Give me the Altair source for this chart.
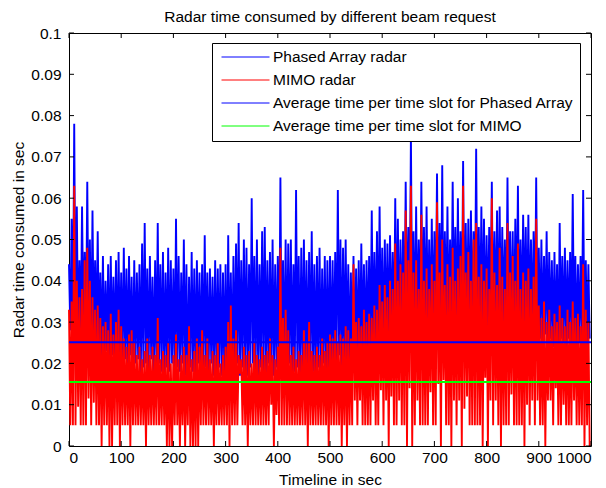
import altair as alt
import pandas as pd

TITLE = "Radar time consumed by different beam request"
X_TITLE = "Timeline in sec"
Y_TITLE = "Radar time consumed in sec"
SERIES = ["Phased Array radar", "MIMO radar",
          "Average time per time slot for Phased Array",
          "Average time per time slot for MIMO"]
COLORS = ["#0000ff", "#ff0000", "#0000ff", "#00ff00"]

BIN_SEC = 5  # each entry below covers 5 s of the timeline (high / low of that slot)

# values in milliseconds (20 entries = 100 s per row)
pa_high_ms = [
    44, 55, 78, 58, 45, 58, 47, 64, 50, 57, 45, 52, 42, 46, 40, 44, 46, 41, 45, 47,
    42, 48, 43, 46, 41, 45, 42, 44, 49, 54, 43, 46, 41, 45, 54, 44, 47, 42, 48, 45,
    43, 55, 46, 42, 50, 44, 41, 47, 43, 45, 42, 44, 51, 42, 43, 41, 45, 43, 44, 42,
    44, 51, 42, 46, 49, 54, 45, 50, 48, 44, 60, 46, 50, 44, 52, 53, 45, 47, 50, 44,
    46, 65, 45, 50, 49, 50, 44, 62, 46, 48, 50, 45, 47, 52, 44, 46, 48, 43, 46, 45,
    46, 45, 47, 62, 50, 48, 50, 44, 42, 46, 43, 45, 49, 44, 45, 46, 57, 47, 52, 58,
    48, 50, 49, 51, 47, 60, 55, 50, 52, 64, 53, 75, 52, 58, 50, 64, 53, 58, 50, 55,
    52, 66, 54, 68, 52, 58, 50, 64, 53, 60, 52, 69, 54, 55, 57, 52, 72, 53, 58, 55,
    51, 53, 64, 52, 57, 58, 53, 50, 65, 52, 52, 55, 63, 50, 56, 53, 56, 50, 52, 65,
    48, 50, 46, 52, 47, 45, 47, 44, 54, 46, 48, 45, 47, 61, 46, 44, 46, 62, 45, 44,
]
pa_low_ms = [
    28, 25, 27, 24, 26, 29, 25, 27, 23, 26, 25, 24, 22, 21, 23, 20, 22, 21, 19, 22,
    20, 21, 19, 22, 18, 20, 21, 17, 19, 20, 18, 21, 17, 19, 20, 18, 17, 19, 18, 20,
    17, 19, 18, 20, 17, 12, 19, 18, 17, 20, 18, 17, 19, 18, 20, 17, 18, 19, 17, 18,
    12, 18, 17, 18, 20, 17, 19, 18, 17, 19, 20, 18, 17, 19, 18, 17, 20, 18, 17, 19,
    18, 17, 19, 18, 20, 17, 18, 19, 17, 18, 20, 17, 19, 18, 17, 19, 18, 20, 17, 18,
    19, 21, 20, 22, 18, 20, 21, 18, 22, 20, 21, 22, 23, 21, 24, 22, 23, 25, 22, 24,
    23, 25, 24, 26, 23, 25, 24, 26, 25, 27, 26, 28, 25, 27, 26, 29, 27, 26, 28, 27,
    29, 27, 28, 26, 30, 27, 28, 29, 27, 30, 28, 26, 29, 27, 28, 30, 27, 29, 28, 27,
    28, 30, 27, 29, 26, 28, 30, 27, 29, 28, 26, 29, 27, 28, 30, 27, 28, 26, 29, 27,
    26, 25, 27, 25, 26, 24, 25, 19, 26, 25, 24, 26, 25, 27, 24, 25, 26, 25, 24, 26,
]
mimo_high_ms = [
    33, 35, 63, 40, 36, 38, 45, 48, 40, 36, 33, 34, 31, 29, 30, 28, 32, 27, 30, 33,
    29, 26, 24, 27, 28, 25, 22, 24, 21, 23, 26, 22, 24, 22, 31, 21, 23, 22, 25, 20,
    22, 27, 21, 22, 24, 22, 29, 21, 23, 26, 24, 28, 22, 26, 21, 23, 22, 25, 20, 22,
    24, 30, 34, 26, 28, 22, 21, 24, 22, 23, 20, 25, 22, 21, 24, 22, 23, 26, 22, 21,
    24, 48, 31, 33, 28, 22, 24, 21, 23, 22, 28, 25, 30, 23, 22, 24, 22, 26, 23, 25,
    27, 26, 28, 25, 27, 26, 29, 28, 26, 44, 30, 31, 29, 33, 30, 32, 31, 34, 33, 39,
    35, 39, 36, 40, 38, 49, 40, 44, 42, 57, 45, 63, 42, 45, 38, 56, 40, 43, 38, 44,
    40, 59, 42, 50, 39, 44, 41, 48, 40, 43, 46, 63, 42, 47, 40, 50, 54, 41, 44, 40,
    43, 38, 60, 42, 39, 48, 41, 38, 54, 42, 46, 40, 49, 38, 42, 40, 43, 38, 41, 55,
    34, 31, 35, 30, 33, 29, 32, 30, 34, 31, 29, 33, 30, 35, 31, 32, 29, 44, 33, 30,
]
mimo_low_ms = [
    5, 5, 5, 9.5, 5, 5, 5, 11.5, 5, 10.5, 5, 5, 0, 5, 5, 0, 0, 5, 5, 0,
    5, 5, 5, 0, 5, 5, 5, 5, 5, 0, 5, 5, 5, 5, 5, 5, 5, 0, 0, 0,
    5, 5, 0, 5, 0, 5, 0, 0, 0, 0, 5, 5, 5, 5, 5, 0, 5, 5, 5, 5,
    5, 0, 5, 5, 5, 17.5, 5, 5, 0, 5, 5, 5, 5, 5, 5, 5, 5, 10, 0, 7.5,
    5, 5, 5, 5, 5, 5, 5, 5, 5, 5, 5, 0, 5, 5, 5, 5, 5, 5, 5, 0,
    5, 5, 5, 5, 0, 5, 0, 5, 5, 11, 5, 11, 5, 5, 5, 5, 11, 5, 5, 13.5,
    5, 11, 0, 12, 5, 5, 11, 5, 5, 0, 14, 0, 5, 11, 5, 5, 5, 5, 13, 5,
    5, 15, 0, 16, 5, 5, 0, 11, 5, 11, 0, 9, 12, 5, 5, 5, 5, 5, 0, 16.5,
    0, 11, 5, 11, 5, 0, 5, 5, 5, 12.5, 5, 5, 5, 5, 0, 10, 5, 11, 5, 11,
    5, 5, 0, 11, 11, 5, 14, 5, 5, 10, 5, 5, 5, 11, 5, 5, 5, 0, 5, 0,
]
avg_pa = 0.0251
avg_mimo = 0.0155

x_ticks = [0, 100, 200, 300, 400, 500, 600, 700, 800, 900, 1000]
y_ticks = [0, 0.01, 0.02, 0.03, 0.04, 0.05, 0.06, 0.07, 0.08, 0.09, 0.1]

for arr in (pa_high_ms, pa_low_ms, mimo_high_ms, mimo_low_ms):
    assert len(arr) == 200, len(arr)


def slots(highs, lows, name):
    rows = []
    for i, (h, l) in enumerate(zip(highs, lows)):
        rows.append({"t": i * BIN_SEC, "v": h / 1000.0, "s": name})
        rows.append({"t": i * BIN_SEC + BIN_SEC / 2, "v": l / 1000.0, "s": name})
    return pd.DataFrame(rows)


pa_df = slots(pa_high_ms, pa_low_ms, SERIES[0])
mimo_df = slots(mimo_high_ms, mimo_low_ms, SERIES[1])
avg_df = pd.DataFrame({
    "t": [x_ticks[0], x_ticks[-1], x_ticks[0], x_ticks[-1]],
    "v": [avg_pa, avg_pa, avg_mimo, avg_mimo],
    "s": [SERIES[2], SERIES[2], SERIES[3], SERIES[3]],
})
xt_df = pd.DataFrame({"t": x_ticks})
yt_df = pd.DataFrame({"v": y_ticks})

W, H = 522, 413
FONT = "Liberation Sans"
FS = 15.5

xscale = alt.Scale(domain=[0, 1000], nice=False, zero=False)
yscale = alt.Scale(domain=[0, 0.1], nice=False)
xaxis = alt.Axis(values=x_ticks, format="d", title=X_TITLE, labelPadding=4,
                 titleY=33, titleBaseline="middle")
yaxis = alt.Axis(values=y_ticks, format=".2~f", title=Y_TITLE, labelPadding=8,
                 titleX=-51, titleBaseline="middle")
X = alt.X("t:Q", scale=xscale, axis=xaxis)
Y = alt.Y("v:Q", scale=yscale, axis=yaxis)
legend = alt.Legend(
    title=None, orient="none", legendX=143, legendY=10,
    symbolType="stroke", symbolSize=2304, symbolStrokeWidth=1,
    labelFont=FONT, labelFontSize=FS, labelColor="black", labelLimit=500,
    labelOffset=3, symbolOffset=3, padding=6, rowPadding=6, clipHeight=16,
    fillColor="white", strokeColor="black", cornerRadius=0,
)
C = alt.Color("s:N", scale=alt.Scale(domain=SERIES, range=COLORS), legend=legend)

LW = 1.9
pa = alt.Chart(pa_df).mark_line(strokeWidth=LW, strokeJoin="bevel").encode(x=X, y=Y, color=C)
mimo = alt.Chart(mimo_df).mark_line(strokeWidth=LW, strokeJoin="bevel").encode(x=X, y=Y, color=C)
avg = alt.Chart(avg_df).mark_line(strokeWidth=2).encode(x=X, y=Y, color=C, detail="s:N")

TL = 5
xt_bottom = alt.Chart(xt_df).mark_rule(color="black").encode(x=X, y=alt.value(H), y2=alt.value(H - TL))
xt_top = alt.Chart(xt_df).mark_rule(color="black").encode(x=X, y=alt.value(0), y2=alt.value(TL))
yt_left = alt.Chart(yt_df).mark_rule(color="black").encode(y=Y, x=alt.value(0), x2=alt.value(TL))
yt_right = alt.Chart(yt_df).mark_rule(color="black").encode(y=Y, x=alt.value(W - TL), x2=alt.value(W))

chart = alt.layer(pa, mimo, avg, xt_bottom, xt_top, yt_left, yt_right).properties(
    width=W, height=H,
    background="white",
    title=alt.TitleParams(TITLE, font=FONT, fontSize=FS, fontWeight="normal",
                          color="black", offset=1, anchor="middle"),
    autosize=alt.AutoSizeParams(type="none"),
    padding={"left": 69, "top": 33, "right": 15, "bottom": 42},
).configure_view(stroke="black", strokeWidth=1).configure_axis(
    labelFont=FONT, labelFontSize=FS, labelColor="black",
    titleFont=FONT, titleFontSize=FS, titleFontWeight="normal", titleColor="black",
    grid=False, domain=False, ticks=False,
)

chart.save("out.html", embed_options={"renderer": "svg", "actions": False})
